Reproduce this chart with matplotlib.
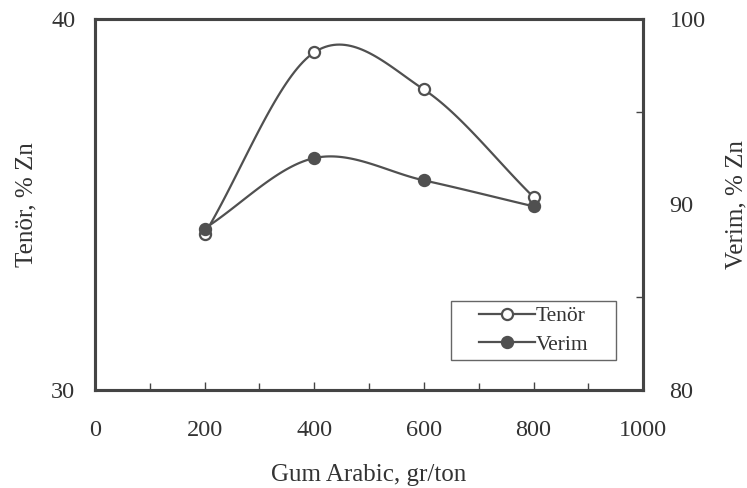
import numpy as np
import matplotlib
matplotlib.use("Agg")
import matplotlib.pyplot as plt
from matplotlib.ticker import MultipleLocator
from matplotlib.lines import Line2D
from matplotlib.patches import Rectangle

gum = [200, 400, 600, 800]
tenor = [34.2, 39.1, 38.1, 35.2]
verim = [88.7, 92.5, 91.3, 89.9]

x_ticks = [0, 200, 400, 600, 800, 1000]
left_ticks = [30, 40]
right_ticks = [80, 90, 100]

plt.rcParams['font.family'] = ['Liberation Serif', 'DejaVu Serif']

def smooth(x, y, n=40):
    x = np.asarray(x, float); y = np.asarray(y, float)
    px = np.concatenate([[2*x[0]-x[1]], x, [2*x[-1]-x[-2]]])
    py = np.concatenate([[2*y[0]-y[1]], y, [2*y[-1]-y[-2]]])
    xs, ys = [], []
    t = np.linspace(0, 1, n)
    for i in range(1, len(px)-2):
        p0, p1, p2, p3 = (np.array([px[j], py[j]]) for j in range(i-1, i+3))
        c1 = p1 + (p2 - p0) / 6
        c2 = p2 - (p3 - p1) / 6
        b = ((1-t)**3)[:, None]*p1 + (3*(1-t)**2*t)[:, None]*c1 + (3*(1-t)*t**2)[:, None]*c2 + (t**3)[:, None]*p2
        xs.extend(b[:, 0]); ys.extend(b[:, 1])
    return np.array(xs), np.array(ys)

col = '#505050'
txt = '#333333'
fig = plt.figure(figsize=(7.47, 4.88), dpi=100)
ax = fig.add_axes([0.127, 0.201, 0.734, 0.760])
ax2 = ax.twinx()

sx, sy = smooth(gum, tenor)
ax.plot(sx, sy, color=col, lw=1.6)
ax.plot(gum, tenor, 'o', ms=8, mfc='white', mec=col, mew=1.6)
vx, vy = smooth(gum, verim)
ax2.plot(vx, vy, color=col, lw=1.6)
ax2.plot(gum, verim, 'o', ms=8, mfc=col, mec=col, mew=1.6)

ax.set_xlim(0, 1000)
ax.set_ylim(30, 40)
ax2.set_ylim(80, 100)
ax.set_xticks(x_ticks)
ax.xaxis.set_minor_locator(MultipleLocator(100))
ax.set_yticks(left_ticks)
ax2.set_yticks(right_ticks)
ax2.yaxis.set_minor_locator(MultipleLocator(5))

for a in (ax, ax2):
    for s in a.spines.values():
        s.set_linewidth(2.2)
        s.set_color('#444444')
    a.tick_params(which='both', direction='in', colors='#444444', labelcolor=txt, labelsize=17.5)
    a.tick_params(which='major', length=0)
    a.tick_params(which='minor', length=5, width=1)
ax.tick_params(axis='x', which='major', length=6, width=1, pad=22)
ax.tick_params(axis='y', which='major', pad=14)
ax2.tick_params(axis='y', which='major', pad=19)

ax.set_xlabel('Gum Arabic, gr/ton', fontsize=18, color=txt, labelpad=16)
ax.set_ylabel('Tenör, % Zn', fontsize=18, color=txt, labelpad=10)
ax2.set_ylabel('Verim, % Zn', fontsize=18, color=txt, labelpad=14)

h = [Line2D([], [], color=col, lw=1.6, marker='o', ms=8, mfc='white', mec=col, mew=1.6),
     Line2D([], [], color=col, lw=1.6, marker='o', ms=8, mfc=col, mec=col, mew=1.6)]
leg = ax2.legend(h, ['Tenör', 'Verim'], loc='center', bbox_to_anchor=(0.80, 0.16),
                 fontsize=15.5, frameon=False,
                 handlelength=2.6, handletextpad=0.05, borderpad=0.2, labelspacing=0.4)
for t in leg.get_texts():
    t.set_color(txt)
ax2.add_patch(Rectangle((0.650, 0.081), 0.301, 0.159, transform=ax2.transAxes,
                        fill=False, edgecolor='#666666', lw=1, zorder=5))

fig.savefig('out.png', dpi=100)
